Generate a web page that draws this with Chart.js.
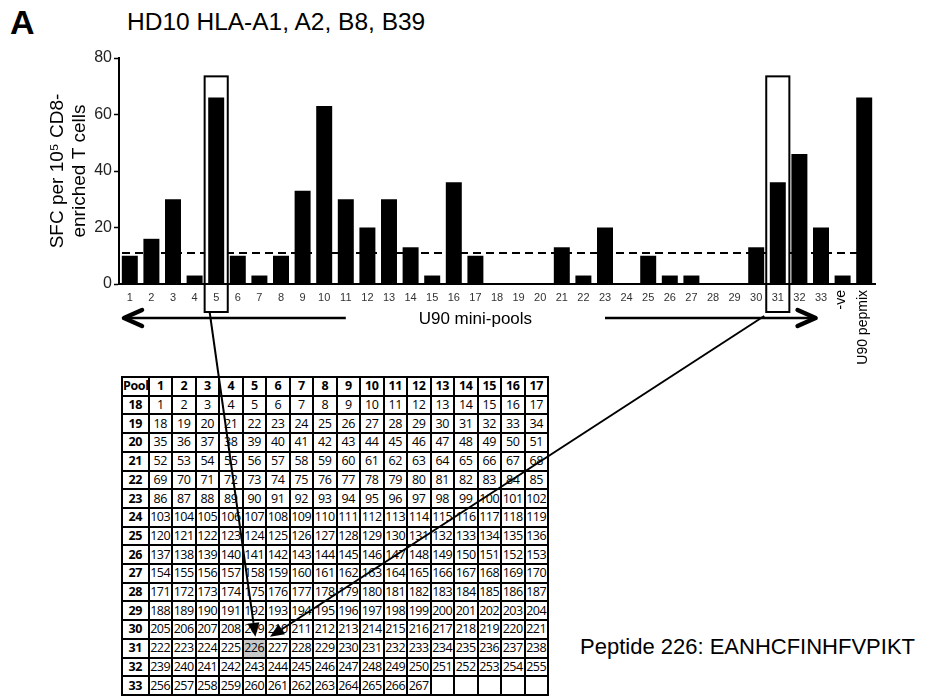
<!DOCTYPE html>
<html>
<head>
<meta charset="utf-8">
<script src="https://cdn.jsdelivr.net/npm/chart.js@4.4.1/dist/chart.umd.min.js"></script>
<style>
  body { margin: 0; background: #fff; font-family: 'Liberation Sans', Arial, sans-serif; }
  #wrap { position: relative; width: 944px; height: 696px; overflow: hidden; }
  #chart { position: absolute; left: 0; top: 0; z-index: 2; pointer-events: none; }
  .lbl { position: absolute; color: #000; white-space: nowrap; }
  #panel { left: 10px; top: 5px; font-size: 34px; font-weight: bold; line-height: 34px; }
  #title { left: 127px; top: 8px; font-size: 24.5px; line-height: 28px; }
  #peptide { left: 580px; top: 634px; font-size: 22px; line-height: 26px; }
  #grid { position: absolute; left: 121px; top: 376px; width: 428px; height: 320px; z-index: 1;
          border-collapse: collapse; table-layout: fixed; font-family: 'Open Sans', sans-serif;
          font-size: 12.5px; letter-spacing: -0.4px; }
  #grid td { border: 2px solid #000; padding: 0; text-align: center; color: #000; line-height: 14px; overflow: visible; }
  #grid td.head { font-weight: bold; }
  #grid td.hit { background: #c8c8c8; }
</style>
</head>
<body>
<div id="wrap">
  <div class="lbl" id="panel">A</div>
  <div class="lbl" id="title">HD10 HLA-A1, A2, B8, B39</div>
  <div class="lbl" id="peptide">Peptide 226: EANHCFINHFVPIKT</div>
  <table id="grid"></table>
  <canvas id="chart" width="944" height="696"></canvas>
</div>
<script>
// --- DATA ---
const pools = ['1','2','3','4','5','6','7','8','9','10','11','12','13','14','15','16','17',
  '18','19','20','21','22','23','24','25','26','27','28','29','30','31','32','33','-ve','U90 pepmix'];
const sfc = [10, 16, 30, 3, 66, 10, 3, 10, 33, 63, 30, 20, 30, 13, 3, 36, 10,
  0, 0, 0, 13, 3, 20, 0, 10, 3, 3, 0, 0, 13, 36, 46, 20, 3, 66];
const yTicks = [0, 20, 40, 60, 80];
const cutoff = 11;
const boxedPools = ['5', '31'];
const boxTop = 73.5;
const rotatedLabels = ['-ve', 'U90 pepmix'];
const axisCaption = 'U90 mini-pools';

// matrix: columns are pools 1-17, rows pools 18-33
const gridCols = [1, 2, 3, 4, 5, 6, 7, 8, 9, 10, 11, 12, 13, 14, 15, 16, 17];
const gridRows = [18, 19, 20, 21, 22, 23, 24, 25, 26, 27, 28, 29, 30, 31, 32, 33];
const peptides = [
  [1, 2, 3, 4, 5, 6, 7, 8, 9, 10, 11, 12, 13, 14, 15, 16, 17],
  [18, 19, 20, 21, 22, 23, 24, 25, 26, 27, 28, 29, 30, 31, 32, 33, 34],
  [35, 36, 37, 38, 39, 40, 41, 42, 43, 44, 45, 46, 47, 48, 49, 50, 51],
  [52, 53, 54, 55, 56, 57, 58, 59, 60, 61, 62, 63, 64, 65, 66, 67, 68],
  [69, 70, 71, 72, 73, 74, 75, 76, 77, 78, 79, 80, 81, 82, 83, 84, 85],
  [86, 87, 88, 89, 90, 91, 92, 93, 94, 95, 96, 97, 98, 99, 100, 101, 102],
  [103, 104, 105, 106, 107, 108, 109, 110, 111, 112, 113, 114, 115, 116, 117, 118, 119],
  [120, 121, 122, 123, 124, 125, 126, 127, 128, 129, 130, 131, 132, 133, 134, 135, 136],
  [137, 138, 139, 140, 141, 142, 143, 144, 145, 146, 147, 148, 149, 150, 151, 152, 153],
  [154, 155, 156, 157, 158, 159, 160, 161, 162, 163, 164, 165, 166, 167, 168, 169, 170],
  [171, 172, 173, 174, 175, 176, 177, 178, 179, 180, 181, 182, 183, 184, 185, 186, 187],
  [188, 189, 190, 191, 192, 193, 194, 195, 196, 197, 198, 199, 200, 201, 202, 203, 204],
  [205, 206, 207, 208, 209, 210, 211, 212, 213, 214, 215, 216, 217, 218, 219, 220, 221],
  [222, 223, 224, 225, 226, 227, 228, 229, 230, 231, 232, 233, 234, 235, 236, 237, 238],
  [239, 240, 241, 242, 243, 244, 245, 246, 247, 248, 249, 250, 251, 252, 253, 254, 255],
  [256, 257, 258, 259, 260, 261, 262, 263, 264, 265, 266, 267]
];
const hitPeptide = 226;

// --- TABLE ---
function buildGrid() {
  let html = '<colgroup><col style="width:26.5px">' + gridCols.map(() => '<col style="width:23.5px">').join('') + '</colgroup>';
  html += '<tr><td class="head">Pool</td>' + gridCols.map(c => `<td class="head">${c}</td>`).join('') + '</tr>';
  gridRows.forEach((r, i) => {
    html += `<tr><td class="head">${r}</td>`;
    gridCols.forEach((c, j) => {
      const v = peptides[i][j];
      if (v === undefined) html += '<td></td>';
      else html += `<td${v === hitPeptide ? ' class="hit" id="hit"' : ''}>${v}</td>`;
    });
    html += '</tr>';
  });
  document.getElementById('grid').innerHTML = html;
}
buildGrid();

// --- DRAWING HELPERS ---
function arrow(ctx, x1, y1, x2, y2) {
  const a = Math.atan2(y2 - y1, x2 - x1);
  const len = 14, half = 6;
  const bx = x2 - len * Math.cos(a), by = y2 - len * Math.sin(a);
  ctx.beginPath(); ctx.moveTo(x1, y1); ctx.lineTo(bx, by); ctx.stroke();
  ctx.beginPath();
  ctx.moveTo(x2, y2);
  ctx.lineTo(bx + half * Math.sin(a), by - half * Math.cos(a));
  ctx.lineTo(bx - half * Math.sin(a), by + half * Math.cos(a));
  ctx.closePath(); ctx.fill();
}

function bigArrow(ctx, from, to, y) {
  const dir = Math.sign(to - from);
  ctx.lineWidth = 2.5;
  ctx.beginPath(); ctx.moveTo(from, y); ctx.lineTo(to, y); ctx.stroke();
  ctx.lineWidth = 4.5;
  ctx.lineCap = 'round'; ctx.lineJoin = 'round';
  ctx.beginPath();
  ctx.moveTo(to - dir * 18, y - 8); ctx.lineTo(to, y); ctx.lineTo(to - dir * 18, y + 8);
  ctx.stroke();
  ctx.lineCap = 'butt';
}

function boxRect(chart, pool) {
  const {chartArea, scales: {x, y}} = chart;
  const cx = x.getPixelForValue(pools.indexOf(pool));
  const w = (chartArea.right - chartArea.left) / pools.length * 1.07;
  return {left: cx - w / 2, top: y.getPixelForValue(boxTop), w: w, bottom: chartArea.bottom + 28};
}

const extras = {
  id: 'extras',
  beforeDatasetsDraw(chart) {
    const {ctx, chartArea, scales: {y}} = chart;
    ctx.save();
    ctx.strokeStyle = '#000';
    ctx.lineWidth = 2;
    ctx.setLineDash([8, 5]);
    const ty = y.getPixelForValue(cutoff);
    ctx.beginPath(); ctx.moveTo(chartArea.left + 3, ty); ctx.lineTo(chartArea.right - 3, ty); ctx.stroke();
    ctx.setLineDash([]);
    boxedPools.forEach(p => {
      const b = boxRect(chart, p);
      ctx.fillStyle = '#fff';
      ctx.fillRect(b.left, b.top, b.w, chartArea.bottom - b.top - 1);
      ctx.strokeRect(b.left, b.top, b.w, b.bottom - b.top);
    });
    ctx.restore();
  },
  afterDraw(chart) {
    const {ctx, chartArea, scales: {x}} = chart;
    ctx.save();
    ctx.fillStyle = '#000';
    ctx.strokeStyle = '#000';

    // rotated labels for the controls
    ctx.font = '14px "Liberation Sans", Arial, sans-serif';
    ctx.textAlign = 'right';
    ctx.textBaseline = 'middle';
    rotatedLabels.forEach(l => {
      ctx.save();
      ctx.translate(x.getPixelForValue(pools.indexOf(l)) - 1, chartArea.bottom + 6);
      ctx.rotate(-Math.PI / 2);
      ctx.fillText(l, 0, 0);
      ctx.restore();
    });

    // mini-pool arrows and caption
    const ay = chartArea.bottom + 34;
    bigArrow(ctx, x.getPixelForValue(10), chartArea.left + 5, ay);
    bigArrow(ctx, x.getPixelForValue(22), x.getPixelForValue(31.75), ay);
    ctx.font = '17px "Liberation Sans", Arial, sans-serif';
    ctx.textAlign = 'center';
    ctx.fillText(axisCaption, x.getPixelForValue(16), ay + 1);

    // arrows from the boxed pools to the matrix cell
    const cell = document.getElementById('hit').getBoundingClientRect();
    const cv = chart.canvas.getBoundingClientRect();
    const cl = cell.left - cv.left, ct = cell.top - cv.top, cw = cell.width;
    ctx.lineWidth = 2;
    const b1 = boxRect(chart, boxedPools[0]);
    const b2 = boxRect(chart, boxedPools[1]);
    arrow(ctx, b1.left + 5, b1.bottom, cl + cw * 0.55, ct - 2);
    arrow(ctx, b2.left - 2, b2.bottom + 4, cl + cw + 4, ct - 2);
    ctx.restore();
  }
};

// --- CHART ---
new Chart(document.getElementById('chart'), {
  type: 'bar',
  data: {
    labels: pools,
    datasets: [{
      data: sfc,
      backgroundColor: '#000',
      borderWidth: 0,
      categoryPercentage: 1,
      barPercentage: 0.74
    }]
  },
  options: {
    responsive: false,
    animation: false,
    layout: { padding: { left: 40, top: 58, right: 69, bottom: 382 } },
    plugins: { legend: { display: false }, tooltip: { enabled: false } },
    scales: {
      x: {
        afterFit: s => { s.height = 30; },
        grid: { display: true, drawOnChartArea: false, drawTicks: false },
        border: { color: '#000', width: 2 },
        ticks: {
          autoSkip: false, maxRotation: 0, padding: 7, color: '#333',
          font: { size: 11, family: '"Liberation Sans", Arial, sans-serif' },
          callback: (v, i) => rotatedLabels.includes(pools[i]) ? '' : pools[i]
        }
      },
      y: {
        min: yTicks[0], max: yTicks[yTicks.length - 1],
        afterFit: s => { s.width = 79; },
        afterBuildTicks: s => { s.ticks = yTicks.map(v => ({ value: v })); },
        grid: { display: true, drawOnChartArea: false, tickLength: 5, color: '#000', tickWidth: 1.5 },
        border: { color: '#000', width: 2 },
        ticks: { padding: 2, color: '#222', font: { size: 16, family: '"Liberation Sans", Arial, sans-serif' } },
        title: {
          display: true,
          text: ['SFC per 10\u2075 CD8-', 'enriched T cells'],
          color: '#000',
          padding: { top: 6, bottom: 0 },
          font: { size: 19, lineHeight: 1.2, family: '"Liberation Sans", Arial, sans-serif' }
        }
      }
    }
  },
  plugins: [extras]
});
</script>
</body>
</html>
